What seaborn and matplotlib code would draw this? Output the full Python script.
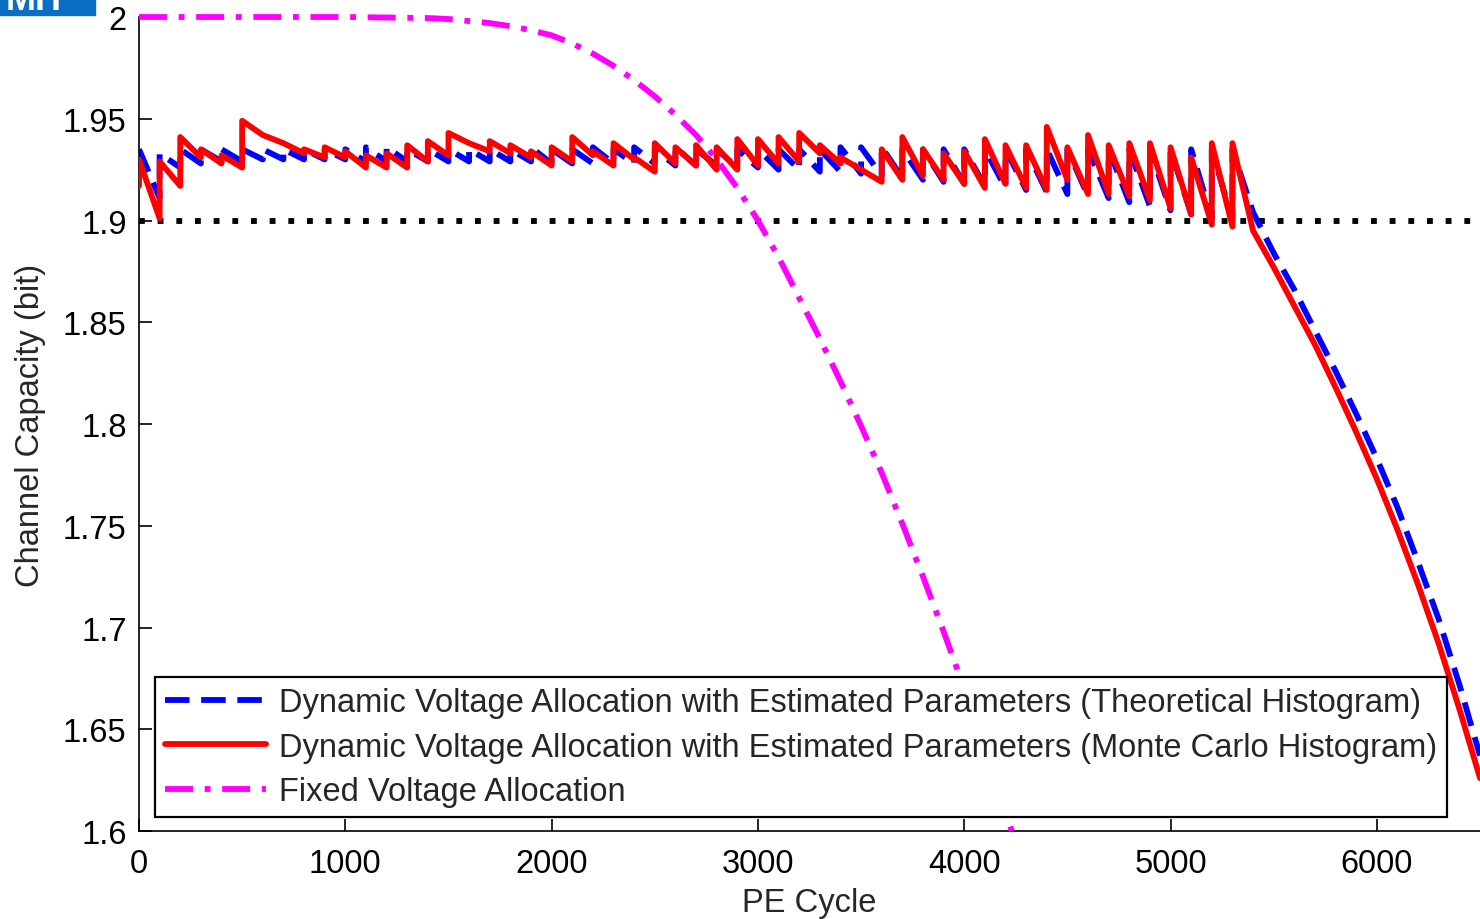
import matplotlib
matplotlib.use("Agg")
import matplotlib.pyplot as plt
from matplotlib.patches import Rectangle
import seaborn as sns
import pandas as pd

# PE cycles where the read voltages get re-allocated (every 100 cycles)
realloc_cycles = list(range(0, 5400, 100))

# Monte Carlo histogram: capacity just before / just after each re-allocation
mc_before = [1.917, 1.901, 1.917, 1.931, 1.928, 1.926, 1.942, 1.938, 1.933, 1.931,
             1.931, 1.926, 1.926, 1.926, 1.929, 1.932, 1.938, 1.934, 1.933, 1.931,
             1.927, 1.929, 1.932, 1.927, 1.930, 1.924, 1.928, 1.927, 1.925, 1.925,
             1.927, 1.928, 1.929, 1.933, 1.928, 1.925, 1.919, 1.920, 1.922, 1.920,
             1.918, 1.916, 1.918, 1.916, 1.915, 1.920, 1.913, 1.913, 1.912, 1.910,
             1.906, 1.903, 1.898, 1.897]
mc_after = [1.930, 1.929, 1.941, 1.935, 1.932, 1.949, 1.942, 1.938, 1.935, 1.936,
            1.934, 1.932, 1.933, 1.937, 1.939, 1.943, 1.938, 1.939, 1.937, 1.934,
            1.936, 1.941, 1.934, 1.938, 1.931, 1.938, 1.936, 1.937, 1.936, 1.940,
            1.940, 1.941, 1.943, 1.937, 1.931, 1.925, 1.935, 1.941, 1.935, 1.933,
            1.934, 1.940, 1.937, 1.937, 1.946, 1.936, 1.942, 1.937, 1.938, 1.938,
            1.936, 1.931, 1.938, 1.938]

# Theoretical histogram: capacity just before / just after each re-allocation
th_before = [1.935, 1.911, 1.926, 1.928, 1.929, 1.929, 1.930, 1.930, 1.930, 1.930,
             1.930, 1.929, 1.929, 1.929, 1.929, 1.929, 1.929, 1.929, 1.929, 1.929,
             1.928, 1.928, 1.928, 1.928, 1.928, 1.928, 1.927, 1.927, 1.927, 1.926,
             1.926, 1.925, 1.925, 1.924, 1.924, 1.923, 1.922, 1.921, 1.920, 1.919,
             1.918, 1.917, 1.916, 1.915, 1.914, 1.913, 1.912, 1.911, 1.909, 1.907,
             1.905, 1.903, 1.901, 1.900]
th_after = [1.935, 1.933, 1.935, 1.935, 1.935, 1.935, 1.935, 1.935, 1.935, 1.935,
            1.935, 1.936, 1.936, 1.935, 1.935, 1.935, 1.935, 1.935, 1.935, 1.936,
            1.935, 1.935, 1.936, 1.935, 1.936, 1.935, 1.936, 1.935, 1.935, 1.935,
            1.935, 1.935, 1.935, 1.935, 1.936, 1.936, 1.936, 1.935, 1.935, 1.935,
            1.935, 1.935, 1.935, 1.935, 1.935, 1.935, 1.935, 1.935, 1.935, 1.935,
            1.935, 1.935, 1.935, 1.935]

# after the last re-allocation both curves just fall off
tail_cycles = [5400, 5500, 5600, 5700, 5800, 5900, 6000, 6100, 6200, 6300, 6400, 6500]
mc_tail = [1.895, 1.877, 1.858, 1.839, 1.818, 1.796, 1.773, 1.748, 1.721, 1.692, 1.660, 1.626]
th_tail = [1.904, 1.884, 1.866, 1.846, 1.826, 1.805, 1.783, 1.759, 1.732, 1.704, 1.672, 1.637]

# fixed voltage allocation
fixed_cycles = [0, 500, 1000, 1400, 1500, 1600, 1700, 1800, 1900, 2000, 2100, 2200,
                2300, 2400, 2500, 2600, 2700, 2800, 2900, 3000, 3100, 3200, 3300,
                3400, 3500, 3600, 3700, 3800, 3900, 4000, 4100, 4200, 4230]
fixed_cap = [2.0, 2.0, 2.0, 1.9995, 1.999, 1.998, 1.997, 1.9955, 1.9935, 1.991, 1.987,
             1.982, 1.976, 1.969, 1.961, 1.952, 1.942, 1.930, 1.916, 1.900, 1.882,
             1.862, 1.842, 1.821, 1.799, 1.776, 1.751, 1.725, 1.698, 1.670, 1.641,
             1.611, 1.600]

threshold = 1.9

labels = ["Dynamic Voltage Allocation with Estimated Parameters (Theoretical Histogram)",
          "Dynamic Voltage Allocation with Estimated Parameters (Monte Carlo Histogram)",
          "Fixed Voltage Allocation"]
yticks = [1.6, 1.65, 1.7, 1.75, 1.8, 1.85, 1.9, 1.95, 2.0]
ytick_labels = ["1.6", "1.65", "1.7", "1.75", "1.8", "1.85", "1.9", "1.95", "2"]
xticks = [0, 1000, 2000, 3000, 4000, 5000, 6000]


def sawtooth(cycles, before, after, tail_x, tail_y):
    xs, ys = [], []
    for c, b, a in zip(cycles, before, after):
        xs += [c, c]
        ys += [b, a]
    return pd.DataFrame({"cycle": xs + tail_x, "cap": ys + tail_y})


th_df = sawtooth(realloc_cycles, th_before, th_after, tail_cycles, th_tail)
mc_df = sawtooth(realloc_cycles, mc_before, mc_after, tail_cycles, mc_tail)
fx_df = pd.DataFrame({"cycle": fixed_cycles, "cap": fixed_cap})

sns.set_style("ticks")
plt.rcParams["font.family"] = ["Liberation Sans", "DejaVu Sans"]

fig = plt.figure(figsize=(14.8, 9.2), dpi=100)
ax = fig.add_axes([139 / 1480, 88 / 920, 1341 / 1480, 814 / 920])

ax.axhline(threshold, color="black", linewidth=4.2, linestyle=(0, (1, 2.2)),
           dash_capstyle="butt", zorder=1)
sns.lineplot(data=th_df, x="cycle", y="cap", sort=False, estimator=None, ax=ax,
             color="#0000ff", linewidth=4.2, linestyle=(0, (4.2, 2.0)),
             label=labels[0], zorder=2)
sns.lineplot(data=mc_df, x="cycle", y="cap", sort=False, estimator=None, ax=ax,
             color="#ff0000", linewidth=4.2, label=labels[1], zorder=3)
sns.lineplot(data=fx_df, x="cycle", y="cap", sort=False, estimator=None, ax=ax,
             color="#ff00ff", linewidth=4.2, linestyle=(0, (4.8, 2.0, 1, 2.0)),
             label=labels[2], zorder=4, clip_on=False)

ax.set_xlim(0, 6500)
ax.set_ylim(1.6, 2.0)
ax.set_xticks(xticks)
ax.set_xticklabels([str(t) for t in xticks])
ax.set_yticks(yticks)
ax.set_yticklabels(ytick_labels)
ax.tick_params(direction="in", length=9, width=1.2, labelsize=23.5, colors="black")
ax.tick_params(axis="x", pad=12)
ax.tick_params(axis="y", pad=9)
for side in ["top", "right"]:
    ax.spines[side].set_visible(False)
for side in ["left", "bottom"]:
    ax.spines[side].set_linewidth(1.2)
    ax.spines[side].set_color("black")

ax.set_xlabel("PE Cycle", fontsize=23.5, labelpad=6)
ax.set_ylabel("Channel Capacity (bit)", fontsize=23.5, labelpad=12)

leg = ax.legend(loc="lower left", bbox_to_anchor=(0.012, 0.017), borderaxespad=0,
                fontsize=23.5, handlelength=3.1, handletextpad=0.4, borderpad=0.3,
                labelspacing=0.42, fancybox=False, framealpha=1, edgecolor="black")
leg.get_frame().set_linewidth(1.6)

# logo corner from the source figure
fig.patches.append(Rectangle((0, 1 - 16 / 920), 95 / 1480, 16 / 920,
                             transform=fig.transFigure, color="#0a6fc2", zorder=10))
fig.text(6 / 1480, 1.0, "MIT", color="white", fontsize=26, fontweight="bold",
         va="center", ha="left", zorder=11)

fig.savefig("out.png", dpi=100)
plt.close(fig)
